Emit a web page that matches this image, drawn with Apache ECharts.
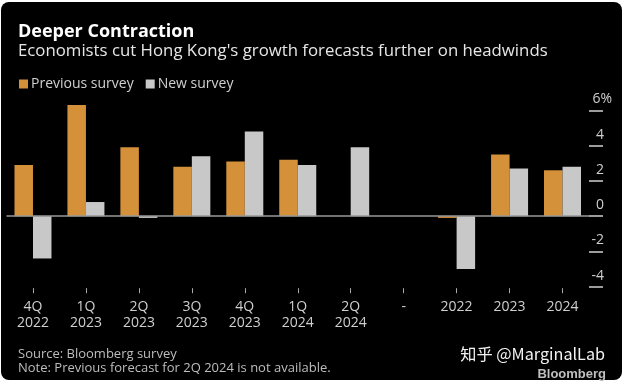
<!DOCTYPE html>
<html>
<head>
<meta charset="utf-8">
<script src="https://cdn.jsdelivr.net/npm/echarts@6/dist/echarts.min.js"></script>
<style>
  html, body { margin: 0; padding: 0; background: #ffffff; }
  #frame { position: absolute; left: 1px; top: 2px; width: 621px; height: 378px; background: #000; border-radius: 8px; }
  #chart { position: absolute; left: 0; top: 0; width: 624px; height: 382px; }
</style>
</head>
<body>
<div id="frame"></div>
<div id="chart"></div>
<script>
const categories = ['4Q\n2022', '1Q\n2023', '2Q\n2023', '3Q\n2023', '4Q\n2023', '1Q\n2024', '2Q\n2024', '-', '2022', '2023', '2024'];
const previousSurvey = [2.9, 6.3, 3.9, 2.8, 3.1, 3.2, null, null, -0.1, 3.5, 2.6];
const newSurvey = [-2.4, 0.8, -0.1, 3.4, 4.8, 2.9, 3.9, null, -3.0, 2.7, 2.8];
const yTicks = [-4, -2, 0, 2, 4, 6];

const FONT = 'Open Sans';
const chart = echarts.init(document.getElementById('chart'), null, { renderer: 'canvas' });

chart.setOption({
  backgroundColor: 'transparent',
  animation: false,
  textStyle: { fontFamily: FONT },
  title: [
    { text: 'Deeper Contraction', left: 13, top: 18,
      textStyle: { color: '#ffffff', fontSize: 18, fontWeight: 'bold', fontFamily: FONT } },
    { text: "Economists cut Hong Kong's growth forecasts further on headwinds", left: 13, top: 38,
      textStyle: { color: '#e6e6e6', fontSize: 16.8, fontWeight: 'normal', fontFamily: FONT } },
    { text: 'Source: Bloomberg survey\nNote: Previous forecast for 2Q 2024 is not available.', left: 13, top: 342,
      textStyle: { color: '#bdbdbd', fontSize: 13, fontWeight: 'normal', lineHeight: 14, fontFamily: FONT } },
    { text: '知乎 @MarginalLab', right: 14, top: 341,
      textStyle: { color: '#f2f2f2', fontSize: 16.2, fontWeight: 'normal', fontFamily: 'Noto Sans CJK SC' } },
    { text: 'Bloomberg', right: 13, top: 363,
      textStyle: { color: '#bfbfbf', fontSize: 13, fontWeight: 'bold', fontFamily: 'Liberation Sans' } }
  ],
  legend: {
    left: 14, top: 72,
    icon: 'rect', itemWidth: 9, itemHeight: 9, itemGap: 12,
    textStyle: { color: '#d0d0d0', fontSize: 14, fontFamily: FONT, padding: [0, 0, 0, -2] },
    data: ['Previous survey', 'New survey']
  },
  grid: { left: 6.5, right: 35, top: 110.3, bottom: 95.3, containLabel: false },
  xAxis: {
    type: 'category',
    data: categories,
    position: 'bottom',
    offset: 1.5,
    axisLine: { show: false, onZero: false },
    axisTick: { show: true, length: 5, alignWithLabel: true, lineStyle: { color: '#aaaaaa', width: 1 } },
    axisLabel: { color: '#cfcfcf', fontSize: 14, lineHeight: 16, margin: 11, fontFamily: FONT, interval: 0 },
    splitLine: { show: false }
  },
  yAxis: {
    type: 'value',
    position: 'right',
    min: yTicks[0], max: yTicks[yTicks.length - 1], interval: 2,
    axisLine: { show: false },
    axisTick: { show: true, length: 14, inside: false, lineStyle: { color: '#cfcfcf', width: 1.5 } },
    splitLine: { show: false },
    axisLabel: {
      margin: 23, align: 'right', verticalAlign: 'bottom',
      color: '#cfcfcf', fontSize: 14, fontFamily: FONT,
      formatter: function (v) {
        return v === yTicks[yTicks.length - 1] ? '{b|' + v + '%}' : '{a|' + v + '}';
      },
      rich: {
        a: { color: '#cfcfcf', fontSize: 14, fontFamily: FONT, padding: [0, 8, 4, 0] },
        b: { color: '#cfcfcf', fontSize: 14, fontFamily: FONT, padding: [0, 0, 4, 0] }
      }
    }
  },
  series: [
    {
      name: 'Previous survey', type: 'bar', data: previousSurvey,
      barWidth: 18.5, barGap: '0%', clip: false,
      itemStyle: { color: '#d4913a' },
      markLine: {
        silent: true, symbol: 'none', label: { show: false },
        lineStyle: { color: '#999999', width: 1.5, type: 'solid' },
        data: [{ yAxis: 0 }]
      }
    },
    {
      name: 'New survey', type: 'bar', data: newSurvey,
      barWidth: 18.5, clip: false,
      itemStyle: { color: '#c8c8c8' }
    }
  ]
});
</script>
</body>
</html>
